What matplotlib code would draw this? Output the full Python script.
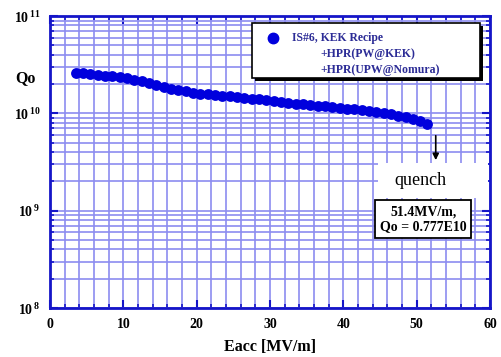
import numpy as np
import matplotlib
matplotlib.use('Agg')
import matplotlib.pyplot as plt
from matplotlib.ticker import LogLocator, MultipleLocator, FixedLocator
from matplotlib.patches import Rectangle

matplotlib.rcParams['font.family'] = ['Liberation Serif', 'DejaVu Serif']
matplotlib.rcParams['font.weight'] = 'bold'
matplotlib.rcParams['mathtext.fontset'] = 'custom'
matplotlib.rcParams['mathtext.rm'] = 'Liberation Serif:bold'
matplotlib.rcParams['mathtext.it'] = 'Liberation Serif:bold'

# Eacc [MV/m] vs Qo
eacc = [3.5, 4.5, 5.5, 6.5, 7.5, 8.5, 9.5, 10.5, 11.5, 12.5, 13.5, 14.5, 15.5,
        16.5, 17.5, 18.5, 19.5, 20.5, 21.5, 22.5, 23.5, 24.5, 25.5, 26.5, 27.5,
        28.5, 29.5, 30.5, 31.5, 32.5, 33.5, 34.5, 35.5, 36.5, 37.5, 38.5, 39.5,
        40.5, 41.5, 42.5, 43.5, 44.5, 45.5, 46.5, 47.5, 48.5, 49.5, 50.5, 51.4]
qo = [2.62e10, 2.58e10, 2.53e10, 2.48e10, 2.44e10, 2.40e10, 2.35e10, 2.29e10,
      2.22e10, 2.14e10, 2.05e10, 1.96e10, 1.88e10, 1.80e10, 1.74e10, 1.68e10,
      1.63e10, 1.60e10, 1.57e10, 1.54e10, 1.52e10, 1.50e10, 1.48e10, 1.45e10,
      1.42e10, 1.39e10, 1.36e10, 1.33e10, 1.31e10, 1.28e10, 1.26e10, 1.24e10,
      1.22e10, 1.20e10, 1.18e10, 1.16e10, 1.14e10, 1.12e10, 1.10e10, 1.08e10,
      1.06e10, 1.03e10, 1.00e10, 0.98e10, 0.95e10, 0.92e10, 0.88e10, 0.84e10,
      0.777e10]

legend_lines = ['IS#6, KEK Recipe', '+HPR(PW@KEK)', '+HPR(UPW@Nomura)']
quench_text = '51.4MV/m,\nQo = 0.777E10'

blue = '#0000dd'
grid_blue = '#8c8cf0'
spine_blue = '#1515c8'

fig = plt.figure(figsize=(5.02, 3.57), dpi=100)
ax = fig.add_axes([0.0996, 0.137, 0.8765, 0.818])

ax.set_yscale('log')
ax.set_xlim(0, 60)
ax.set_ylim(1e8, 1e11)

ax.xaxis.set_major_locator(MultipleLocator(10))
ax.xaxis.set_minor_locator(MultipleLocator(2))
ax.yaxis.set_major_locator(FixedLocator([1e8, 1e9, 1e10, 1e11]))
ax.yaxis.set_minor_locator(LogLocator(base=10, subs=np.arange(2, 10)))
ax.yaxis.set_minor_formatter(matplotlib.ticker.NullFormatter())
ax.set_yticklabels([r'$10^{\,8}$', r'$10^{\,9}$', r'$10^{\,10}$', r'$10^{\,11}$'])

ax.grid(True, which='both', color=grid_blue, linewidth=1.2)
ax.set_axisbelow(True)
for s in ax.spines.values():
    s.set_color(spine_blue)
    s.set_linewidth(2)
ax.tick_params(which='both', direction='in', colors=spine_blue, top=True, right=True,
               labelcolor='black', labelsize=10)
ax.tick_params(which='major', length=6, width=1.5, pad=7)
ax.tick_params(which='minor', length=3, width=1.2)

ax.plot(eacc, qo, 'o', color=blue, markersize=7.8, markeredgewidth=0, zorder=3)

ax.set_xlabel('Eacc [MV/m]', fontsize=11.5, fontweight='bold', labelpad=6)
fig.text(0.05, 0.78, 'Qo', fontsize=11.5, fontweight='bold', ha='center', va='center')

# legend box drawn by hand
tr = ax.transAxes
ax.add_patch(Rectangle((0.467, 0.779), 0.518, 0.188, transform=tr, facecolor='black',
                       edgecolor='none', zorder=4, clip_on=False))
ax.add_patch(Rectangle((0.46, 0.788), 0.518, 0.188, transform=tr, facecolor='white',
                       edgecolor='black', linewidth=1.2, zorder=5, clip_on=False))
ax.plot([0.507], [0.925], 'o', color=blue, markersize=7.5, transform=tr, zorder=6, clip_on=False)
ax.text(0.55, 0.925, legend_lines[0], transform=tr, fontsize=8.5, color='#2c2c96',
        va='center', zorder=6)
ax.text(0.614, 0.870, legend_lines[1], transform=tr, fontsize=8.5, color='#2c2c96',
        va='center', zorder=6)
ax.text(0.614, 0.815, legend_lines[2], transform=tr, fontsize=8.5, color='#2c2c96',
        va='center', zorder=6)

# quench annotation
ax.add_patch(Rectangle((0.745, 0.377), 0.25, 0.12, transform=tr, facecolor='white',
                       edgecolor='none', zorder=2))
ax.annotate('', xy=(52.6, 3.1e9), xytext=(52.6, 6.3e9),
            arrowprops=dict(arrowstyle='-|>', color='black', lw=1.2, mutation_scale=9),
            zorder=6)
ax.text(0.843, 0.437, 'quench', transform=tr, fontsize=13, fontweight='normal',
        ha='center', va='center', zorder=6)
ax.text(0.848, 0.305, quench_text, transform=tr, fontsize=10, ha='center', va='center',
        linespacing=1.15, zorder=6,
        bbox=dict(boxstyle='square,pad=0.35', facecolor='white', edgecolor='black', lw=1.3))

fig.savefig('out.png', dpi=100)
